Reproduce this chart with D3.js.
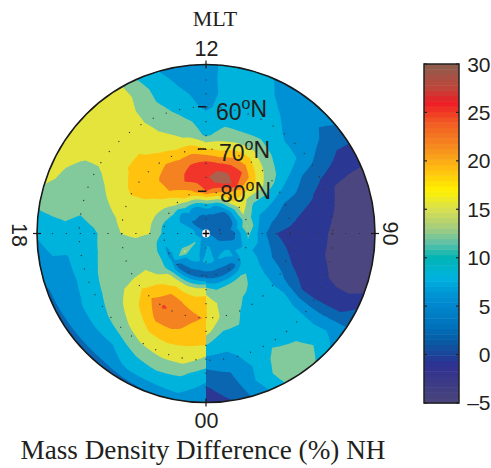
<!DOCTYPE html>
<html><head><meta charset="utf-8">
<style>html,body{margin:0;padding:0;background:#fff}svg{display:block}</style>
<script src="https://cdn.jsdelivr.net/npm/d3@7"></script>
</head><body><div id="c"></div>
<script>
// Each row: one MLT sector (10 degree steps, starting at 00 MLT, going through 06, 12, 18 back to 24).
// Each row holds values from the pole (90N) out to 50N in 13 rings.
const sectorValues = [
[4.5,7.5,8,2.2,12.5,18,18,15.5,10.5,6,2.8,1,-1.2],
[4.5,7.5,8,2.2,10.5,13.8,14,10.8,8.5,6,4,2.5,1.5],
[4.5,7,7,2.2,11,13,12.5,10.5,9,8.5,7.5,8,6],
[4.5,6,7.5,2.2,11.5,11.5,8,8.5,8.5,10,12,13,12],
[4.5,5,8,2.5,12,10,8.5,8,9,9,10.8,12.5,11],
[4.5,4.5,8,6.5,9.5,9,8,9,7.5,7.3,7.2,8,6],
[4.5,4,6.5,8.5,8,6,5,2.5,1,.6,.8,1,2.8],
[4.5,3,5,8,6.5,4,2,.5,0,-1.2,-2.2,-2.5,-1.8],
[4.5,3,3.5,10.5,6,2.5,.9,0,-.8,-2,-3,-3,-3],
[4.5,2.5,3.5,11.5,5,1.25,.5,0,-.5,-2,-3,-3,-3],
[4.5,1,5,14.5,5.5,3.5,2,.8,0,-1.2,-2.5,-3,-3],
[4.5,1.2,4,12.8,7.5,6,3.5,2.5,1.5,-.8,-1.8,-2.2,-2.5],
[4.5,3,3.5,15,9.5,9,7.5,6,3.5,3,1.8,.5,.5],
[4.5,2.5,3.5,15,14,15,12.5,9,8,6,4.5,3.5,4],
[4.5,2.5,4,18,20,20,15,11.5,8.5,6.5,6,5,5.5],
[4.5,2,5,18.5,26.5,24.8,19,13,10,9,7.5,6.5,6],
[4.5,2.5,6,20,30,25.5,19.5,13,9.5,9,9,8.5,8],
[4.5,1.2,8.5,22.5,30,25,17.5,12.5,10,9,9,9,9],
[4.5,2,9,24.5,26.5,25.5,18,10,9,6.5,5.5,6,6],
[4.5,1.8,8,22,26,24.7,20,13.8,11.5,9,8,6.5,6],
[4.5,2.5,7,20,25,24,19,15,13.5,12,10.5,10,8],
[4.5,3,7,19,23,23,20.5,16,15,14.5,14.3,15,14.5],
[4.5,3,8,16,21.5,21.5,20,18.5,16.5,15.5,15.5,16,16],
[4.5,3.5,5,14,18.5,20,19.5,18,17,16,16,16,16],
[4.5,5,6,13,15.5,18,18.5,16.5,14.8,13.8,14,15,16],
[4.5,7,8,11,15,15.5,16,15,13.5,13,13,13.5,15.5],
[4.5,8,8,10,14.5,14.5,15,13.5,12.5,11,12.5,12,11.5],
[4.5,8,9,10,14.3,15,14.3,12.5,10,9.5,9,8.5,7.5],
[4.5,8.5,9,8,13,13,13,12.5,10.3,9.5,7,7,6],
[4.5,9,10,7,12.5,13,13,12.5,11,9.5,6.5,6,3.5],
[4.5,10,10,6.5,13,14,13.5,13,12.5,9,7.5,6,3],
[4.5,11,15,6.5,12,16.5,17.5,16,13.5,11,8,5.5,3],
[4.5,10,8.5,2.5,16,18.5,21.3,18.5,15.5,13,8,5.5,3],
[4.5,8,8.5,2.2,16,21.5,25,22,18,14.5,10.8,8,3],
[4.5,7,8,2.2,15,21,23,22,18.5,15.5,12,8.5,3.8],
[4.5,7,7,2.2,15,20,22,20.5,18,16,11.5,9,5.5],
[4.5,7,8,2.2,16,20,21,20,17.5,13,9,6,4]
];
const contourLevels = [-1.5,1.25,4,7.25,10.75,14.25,17.75,21.25,24.5,27.5];
const bandColors = ["#4b467f","#2b3893","#0a66b0","#0090d4","#00b3dc","#82ca9c","#e5e43c","#ffc20e","#f58220","#f1352a","#aa624f"];
const latitudeRings = [60,70,80];
const mltLabels = ["12","00","18","06"];
const colorbarTicks = [30,25,20,15,10,5,0,-5];
const colorbarStops = [-5,-3,-1,1,3,6,8,10,11.5,13,15,17,19,21,24,26,27.5,30];
const colorbarColors = ["#4b4679","#3d3a86","#2e3192","#0b559f","#0072bc","#0090d4","#00b4e0","#00b4b4","#5cc0a8","#a0cc80","#d7df50","#fff200","#ffc20e","#f7941d","#f15a24","#ee1c25","#c0453a","#8b5e4e"];

const W=491,H=468,cx=206,cy=233.5,R=169;
const svg=d3.select("#c").append("svg").attr("width",W).attr("height",H);
const nRings=sectorValues[0].length,nSect=sectorValues.length;
const ringScale=d3.scaleLinear().domain([0,nRings-1]).range([0,R]);
const sectScale=d3.scaleLinear().domain([0,nSect-1]).range([0,2*Math.PI]);
const latScale=d3.scaleLinear().domain([90,50]).range([0,R]);
const project=(x,y)=>{
  const r=ringScale(Math.max(0,Math.min(nRings-1,x-0.5)));
  const a=sectScale(Math.max(0,Math.min(nSect-1,y-0.5)));
  return [cx+r*Math.sin(a),cy+r*Math.cos(a)];
};
const contours=d3.contours().size([nRings,nSect]).smooth(true).thresholds(contourLevels)(sectorValues.flat());
const lineGen=d3.line();
function ringPath(ring){
  const pts=[];
  for(let i=0;i<ring.length-1;i++){
    const p=ring[i],q=ring[i+1];
    for(let k=0;k<6;k++){const t=k/6;pts.push(project(p[0]+(q[0]-p[0])*t,p[1]+(q[1]-p[1])*t));}
  }
  return lineGen(pts)+"Z";
}
const map=svg.append("g");
map.append("circle").attr("cx",cx).attr("cy",cy).attr("r",R).attr("fill",bandColors[0]);
map.selectAll("path.band").data(contours).join("path").attr("class","band")
  .attr("fill-rule","evenodd")
  .attr("fill",d=>bandColors[contourLevels.indexOf(d.value)+1])
  .attr("d",d=>d.coordinates.map(poly=>poly.map(ringPath).join("")).join(""));

// Dotted grid
const dot={stroke:"#333","stroke-width":1.1,"stroke-dasharray":"1.2 12.7",fill:"none"};
const applyDot=s=>{Object.entries(dot).forEach(([k,v])=>s.attr(k,v));return s;};
applyDot(svg.append("g").selectAll("circle").data(latitudeRings).join("circle")
  .attr("cx",cx).attr("cy",cy).attr("r",d=>latScale(d)));
applyDot(svg.append("g").selectAll("line").data([[0,-1],[0,1],[1,0],[-1,0]]).join("line")
  .attr("x1",cx).attr("y1",cy).attr("x2",d=>cx+d[0]*R).attr("y2",d=>cy+d[1]*R));
// Latitude ticks along the noon meridian
svg.append("g").selectAll("line").data(latitudeRings).join("line")
  .attr("x1",cx-8).attr("x2",cx).attr("y1",d=>cy-latScale(d)).attr("y2",d=>cy-latScale(d))
  .attr("stroke","#111").attr("stroke-width",1.4);
// Outline and outer ticks
svg.append("circle").attr("cx",cx).attr("cy",cy).attr("r",R).attr("fill","none").attr("stroke","#1a1a1a").attr("stroke-width",1.6);
svg.append("g").selectAll("line").data([[0,-1],[0,1],[1,0],[-1,0]]).join("line")
  .attr("x1",d=>cx+d[0]*(R-4)).attr("y1",d=>cy+d[1]*(R-4))
  .attr("x2",d=>cx+d[0]*(R+4)).attr("y2",d=>cy+d[1]*(R+4))
  .attr("stroke","#1a1a1a").attr("stroke-width",1.2);
// Pole marker
svg.append("circle").attr("cx",cx).attr("cy",cy).attr("r",4).attr("fill","#fff");
svg.append("path").attr("d",`M${cx-3.5},${cy}H${cx+3.5}M${cx},${cy-3.5}V${cy+3.5}`).attr("stroke","#000").attr("stroke-width",1.3);

const sans='"Liberation Sans",Arial,sans-serif',serif='"Liberation Serif","Times New Roman",serif';
const fg="#231f20";
// MLT labels
const mltPos={"12":[206.5,55.5,0],"00":[206.5,427.5,0],"18":[12,235,90],"06":[398,233.5,-90]};
svg.append("g").selectAll("text").data(mltLabels).join("text").text(d=>d)
  .attr("transform",d=>`translate(${mltPos[d][0]},${mltPos[d][1]}) rotate(${mltPos[d][2]})`)
  .attr("text-anchor","middle").attr("font-family",sans).attr("font-size",21.5).attr("fill",fg);
// Latitude labels
const latLabelX={60:216,70:219,80:220},latLabelY={60:120,70:161,80:202};
const lt=svg.append("g").selectAll("text").data(latitudeRings).join("text")
  .attr("x",d=>latLabelX[d]).attr("y",d=>latLabelY[d])
  .attr("font-family",sans).attr("font-size",23).attr("fill",fg);
lt.append("tspan").text(d=>d);
lt.append("tspan").text("o").attr("font-size",16).attr("dy",-11);
lt.append("tspan").text("N").attr("dy",8);
// Titles
svg.append("text").text("MLT").attr("x",215).attr("y",26).attr("text-anchor","middle")
  .attr("font-family",serif).attr("font-size",22).attr("fill",fg);
svg.append("text").text("Mass Density Difference (%) NH").attr("x",203).attr("y",459).attr("text-anchor","middle")
  .attr("font-family",serif).attr("font-size",27.2).attr("fill",fg);
// Colorbar
const barX=424,barW=35,barTop=64,barBot=403;
const yBar=d3.scaleLinear().domain([-5,30]).range([barBot,barTop]);
const barColor=d3.scaleLinear().domain(colorbarStops).range(colorbarColors);
const steps=64,stepV=35/steps;
svg.append("g").selectAll("rect").data(d3.range(steps)).join("rect")
  .attr("x",barX).attr("width",barW)
  .attr("y",i=>yBar(-5+(i+1)*stepV)).attr("height",i=>yBar(-5+i*stepV)-yBar(-5+(i+1)*stepV)+0.5)
  .attr("fill",i=>barColor(-5+(i+.5)*stepV));
svg.append("rect").attr("x",barX).attr("y",barTop).attr("width",barW).attr("height",barBot-barTop)
  .attr("fill","none").attr("stroke","#222").attr("stroke-width",1.5);
const tk=svg.append("g").selectAll("g").data(colorbarTicks).join("g");
tk.append("line").attr("x1",barX).attr("x2",barX+3).attr("y1",d=>yBar(d)).attr("y2",d=>yBar(d)).attr("stroke","#222").attr("stroke-width",1.2);
tk.append("line").attr("x1",barX+barW-3).attr("x2",barX+barW).attr("y1",d=>yBar(d)).attr("y2",d=>yBar(d)).attr("stroke","#222").attr("stroke-width",1.2);
tk.append("text").text(d=>d<0?"\u2013"+(-d):d).attr("x",490.5).attr("y",d=>yBar(d)+(d===30?8:d===-5?7:7.5))
  .attr("text-anchor","end").attr("font-family",sans).attr("font-size",21).attr("fill",fg);
</script></body></html>
